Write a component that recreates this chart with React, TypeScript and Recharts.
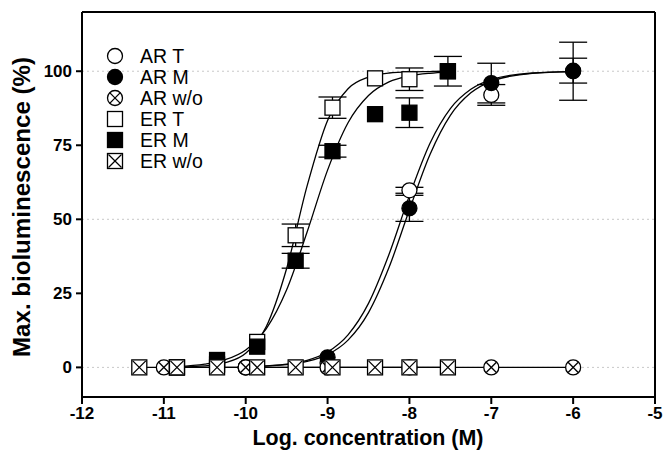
import React from "react";
import {
  ComposedChart,
  Line,
  Scatter,
  XAxis,
  YAxis,
  ErrorBar,
  ReferenceLine,
} from "recharts";

const FONT = "'Liberation Sans', Arial, Helvetica, sans-serif";

// axis ticks
const xTicks = [-12, -11, -10, -9, -8, -7, -6, -5];
const yTicks = [0, 25, 50, 75, 100];
const gridValues = [0, 50, 100];

// AR reporter: log concentration, response (%) and SEM
const arConc = [-10, -9, -8, -7, -6];
const arT = [0, 1.5, 59.8, 92, 100.2];
const arTErr = [0, 0, 1, 3.5, 4.2];
const arM = [0, 3.4, 53.7, 96, 100];
const arMErr = [0, 0, 4.4, 6.7, 9.8];
const arWoConc = [-11, -10, -9, -8, -7, -6];
const arWo = [0, 0, 0, 0, 0, 0];

// ER reporter
const erConc = [-10.84, -10.35, -9.86, -9.39, -8.94, -8.42, -8.0, -7.53];
const erT = [0, 1, 8.6, 44.6, 87.7, 97.6, 97.3, 100];
const erTErr = [0, 0, 0, 3.8, 3.6, 0, 3.8, 0];
const erM = [0, 2.5, 7, 36, 73, 85.5, 86, 100];
const erMErr = [0, 0, 0, 2.5, 2, 0, 5, 5];
const erWoConc = [-11.3, -10.84, -10.35, -9.86, -9.39, -8.94, -8.42, -8.0, -7.53];
const erWo = [0, 0, 0, 0, 0, 0, 0, 0, 0];

// fitted dose-response curves, sampled
const arCurveX = [-10, -9.5, -9.25, -9, -8.75, -8.5, -8.25, -8, -7.75, -7.5, -7.25, -7, -6.5, -6];
const arTCurve = [0.2, 1.1, 2.4, 5.2, 11, 21.6, 38.1, 58, 75.6, 87.4, 93.9, 97.2, 99.4, 99.9];
const arMCurve = [0.2, 0.9, 2, 4.3, 9.2, 18.5, 33.7, 53.2, 71.8, 85.1, 92.7, 96.6, 99.3, 99.9];
const erCurveX = [-10.84, -10.5, -10.25, -10, -9.75, -9.5, -9.25, -9, -8.75, -8.5, -8.25, -8, -7.75, -7.53];
const erTCurve = [0.1, 0.5, 1.6, 4.8, 13.7, 33.4, 61.3, 83.4, 94.1, 98, 99.4, 99.8, 99.9, 100];
const erMCurve = [0.3, 1.1, 2.6, 5.9, 13, 26.2, 45.7, 66.6, 82.6, 91.8, 96.4, 98.4, 99.3, 99.7];

const legendLabels = ["AR T", "AR M", "AR w/o", "ER T", "ER M", "ER w/o"];
type Mark = "circle" | "dot" | "circleX" | "square" | "block" | "squareX";
const legendMarks: Mark[] = ["circle", "dot", "circleX", "square", "block", "squareX"];

const pts = (xs: number[], ys: number[], errs?: number[]) =>
  xs.map((x, i) => ({ x, y: ys[i], err: errs ? errs[i] : 0 }));

function Marker({ cx, cy, kind }: { cx: number; cy: number; kind: Mark }) {
  const r = 7.5;
  const sw = 1.3;
  const d = 5.1;
  switch (kind) {
    case "circle":
    case "dot":
      return (
        <circle cx={cx} cy={cy} r={r} fill={kind === "dot" ? "#000" : "#fff"} stroke="#000" strokeWidth={sw} />
      );
    case "circleX":
      return (
        <g stroke="#000" strokeWidth={sw}>
          <circle cx={cx} cy={cy} r={r} fill="#fff" />
          <line x1={cx - d} y1={cy - d} x2={cx + d} y2={cy + d} />
          <line x1={cx - d} y1={cy + d} x2={cx + d} y2={cy - d} />
        </g>
      );
    case "square":
    case "block":
      return (
        <rect x={cx - r} y={cy - r} width={2 * r} height={2 * r}
          fill={kind === "block" ? "#000" : "#fff"} stroke="#000" strokeWidth={sw} />
      );
    default:
      return (
        <g stroke="#000" strokeWidth={sw}>
          <rect x={cx - r} y={cy - r} width={2 * r} height={2 * r} fill="#fff" />
          <line x1={cx - r + 1} y1={cy - r + 1} x2={cx + r - 1} y2={cy + r - 1} />
          <line x1={cx - r + 1} y1={cy + r - 1} x2={cx + r - 1} y2={cy - r + 1} />
        </g>
      );
  }
}

const shapeOf = (kind: Mark) => (p: any) => <Marker cx={p.cx} cy={p.cy} kind={kind} />;

const curveLine = (data: { x: number; y: number }[], key: string) => (
  <Line key={key} data={data} dataKey="y" type="monotone" stroke="#000" strokeWidth={1.3}
    dot={false} activeDot={false} isAnimationActive={false} />
);

const connectLine = (data: { x: number; y: number }[], key: string) => (
  <Line key={key} data={data} dataKey="y" type="linear" stroke="#000" strokeWidth={1.3}
    dot={false} activeDot={false} isAnimationActive={false} />
);

const tickStyle = { fontSize: 17, fontWeight: 700, fill: "#000", fontFamily: FONT };

export default function App() {
  return (
    <div style={{ position: "absolute", left: 0, top: 0, width: 664, height: 451, background: "#fff" }}>
      <ComposedChart width={664} height={451} margin={{ top: 12, right: 9, left: 0, bottom: 0 }}>
        {gridValues.map((v) => (
          <ReferenceLine key={v} y={v} stroke="#c8c8c8" strokeDasharray="2 3" strokeWidth={1} />
        ))}
        <XAxis
          dataKey="x"
          type="number"
          domain={[-12, -5]}
          ticks={xTicks}
          allowDataOverflow
          height={54}
          tickSize={7}
          tickMargin={3}
          tick={tickStyle}
          axisLine={{ stroke: "#000", strokeWidth: 2 }}
          tickLine={{ stroke: "#000", strokeWidth: 2 }}
          label={(p: any) => (
            <text x={368} y={445} textAnchor="middle" textLength={231} lengthAdjust="spacingAndGlyphs"
              fontSize={22} fontWeight={700} fontFamily={FONT} fill="#000">
              Log. concentration (M)
            </text>
          )}
        />
        <YAxis
          dataKey="y"
          type="number"
          domain={[-10, 120]}
          ticks={yTicks}
          allowDataOverflow
          width={82}
          tickSize={6}
          tickMargin={4}
          tick={tickStyle}
          axisLine={{ stroke: "#000", strokeWidth: 2 }}
          tickLine={{ stroke: "#000", strokeWidth: 2 }}
          label={(p: any) => (
            <text x={30} y={207} transform="rotate(-90 30 207)" textAnchor="middle" textLength={300}
              lengthAdjust="spacingAndGlyphs" fontSize={23} fontWeight={700} fontFamily={FONT} fill="#000">
              Max. bioluminescence (%)
            </text>
          )}
        />
        <ReferenceLine y={120} stroke="#000" strokeWidth={2} />
        <ReferenceLine x={-5} stroke="#000" strokeWidth={2} />

        {connectLine(pts(arWoConc, arWo), "arWoLine")}
        {connectLine(pts(erWoConc, erWo), "erWoLine")}
        {curveLine(pts(arCurveX, arTCurve), "arTCurve")}
        {curveLine(pts(arCurveX, arMCurve), "arMCurve")}
        {curveLine(pts(erCurveX, erTCurve), "erTCurve")}
        {curveLine(pts(erCurveX, erMCurve), "erMCurve")}

        <Scatter data={pts(arConc, arT, arTErr)} dataKey="y" shape={shapeOf("circle")} isAnimationActive={false}>
          <ErrorBar dataKey="err" direction="y" width={14} stroke="#000" strokeWidth={1.3} />
        </Scatter>
        <Scatter data={pts(arConc, arM, arMErr)} dataKey="y" shape={shapeOf("dot")} isAnimationActive={false}>
          <ErrorBar dataKey="err" direction="y" width={14} stroke="#000" strokeWidth={1.3} />
        </Scatter>
        <Scatter data={pts(arWoConc, arWo)} dataKey="y" shape={shapeOf("circleX")} isAnimationActive={false} />
        <Scatter data={pts(erConc, erT, erTErr)} dataKey="y" shape={shapeOf("square")} isAnimationActive={false}>
          <ErrorBar dataKey="err" direction="y" width={14} stroke="#000" strokeWidth={1.3} />
        </Scatter>
        <Scatter data={pts(erConc, erM, erMErr)} dataKey="y" shape={shapeOf("block")} isAnimationActive={false}>
          <ErrorBar dataKey="err" direction="y" width={14} stroke="#000" strokeWidth={1.3} />
        </Scatter>
        <Scatter data={pts(erWoConc, erWo)} dataKey="y" shape={shapeOf("squareX")} isAnimationActive={false} />
      </ComposedChart>

      <svg width={664} height={451} style={{ position: "absolute", left: 0, top: 0, pointerEvents: "none" }}>
        {legendLabels.map((label, i) => {
          const cy = 56 + i * 21;
          return (
            <g key={label}>
              <Marker cx={115} cy={cy} kind={legendMarks[i]} />
              <text x={140} y={cy + 7} fontSize={19.5} fontFamily={FONT} fill="#000">
                {label}
              </text>
            </g>
          );
        })}
      </svg>
    </div>
  );
}
